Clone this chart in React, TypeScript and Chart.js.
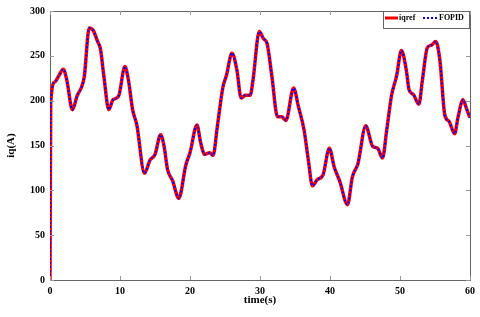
import React, { useEffect, useRef } from "react";
import { Chart, registerables } from "chart.js";

Chart.register(...registerables);

const times = [
  0, 0.1, 0.7, 1.2, 1.9, 2.4, 3.2, 3.9, 4.5, 4.9, 5.6, 6.2, 6.8, 7.2, 7.7, 8.4, 9.0, 9.8,
  10.7, 11.2, 11.8, 12.4, 13.5, 14.3, 15.0, 15.8, 16.3, 16.8, 17.5, 18.4, 19.4, 20.0,
  21.0, 21.5, 22.1, 22.8, 23.3, 23.9, 24.7, 25.2, 26.0, 26.7, 27.3, 27.9, 28.6, 29.0,
  29.9, 30.5, 31.0, 31.7, 32.5, 33.1, 33.7, 34.8, 35.5, 36.3, 36.9, 37.5, 38.2, 39.0,
  39.9, 40.6, 41.4, 42.5, 43.2, 44.0, 45.1, 46.1, 46.8, 47.5, 48.1, 48.8, 49.5, 50.2,
  50.9, 51.3, 51.9, 52.7, 53.2, 53.9, 54.5, 55.1, 55.7, 56.4, 57.0, 57.8, 58.3, 59.0,
  59.5, 60.0,
];

const iqref = [
  0, 197, 221, 227, 235, 223, 190, 206, 215, 227, 281, 278, 266, 258, 227, 190, 201, 205,
  238, 223, 190, 173, 119, 134, 140, 162, 149, 123, 111, 91, 128, 142,
  173, 154, 140, 142, 139, 171, 215, 228, 253, 234, 203, 206, 206, 223,
  277, 269, 264, 227, 182, 182, 178, 214, 193, 167, 134, 105, 112, 117,
  147, 126, 110, 84, 115, 130, 172, 149, 147, 136, 167, 206, 227, 256,
  234, 212, 207, 196, 223, 259, 262, 266, 245, 184, 177, 163, 182, 201,
  191, 181,
];

const fopid = [
  0, 197, 221, 227, 235, 223, 190, 206, 215, 227, 281, 278, 266, 258, 227, 190, 201, 205,
  238, 223, 190, 173, 119, 134, 140, 162, 149, 123, 111, 91, 128, 142,
  173, 154, 140, 142, 139, 171, 215, 228, 253, 234, 203, 206, 206, 223,
  277, 269, 264, 227, 182, 182, 178, 214, 193, 167, 134, 105, 112, 117,
  147, 126, 110, 84, 115, 130, 172, 149, 147, 136, 167, 206, 227, 256,
  234, 212, 207, 196, 223, 259, 262, 266, 245, 184, 177, 163, 182, 201,
  191, 181,
];

const xTicks = [0, 10, 20, 30, 40, 50, 60];
const yTicks = [0, 50, 100, 150, 200, 250, 300];
const seriesNames = ["iqref", "FOPID"];
const xTitle = "time(s)";
const yTitle = "iq(A)";

const FONT = "'Liberation Serif', 'Times New Roman', serif";

const framePlugin = {
  id: "frame",
  afterDraw(chart: any) {
    const { ctx, chartArea } = chart;
    const { left, right, top, bottom } = chartArea;
    const xs = chart.scales.x;
    const ys = chart.scales.y;
    ctx.save();
    // box
    ctx.strokeStyle = "#666";
    ctx.lineWidth = 1;
    ctx.beginPath();
    ctx.moveTo(left, top + 0.5);
    ctx.lineTo(right + 0.5, top + 0.5);
    ctx.lineTo(right + 0.5, bottom);
    ctx.stroke();
    // inward ticks
    ctx.strokeStyle = "#999";
    const tl = 4;
    ctx.beginPath();
    xTicks.forEach((v) => {
      const px = Math.round(xs.getPixelForValue(v)) + 0.5;
      ctx.moveTo(px, bottom);
      ctx.lineTo(px, bottom - tl);
      ctx.moveTo(px, top);
      ctx.lineTo(px, top + tl);
    });
    yTicks.forEach((v) => {
      const py = Math.round(ys.getPixelForValue(v)) + 0.5;
      ctx.moveTo(left, py);
      ctx.lineTo(left + tl, py);
      ctx.moveTo(right, py);
      ctx.lineTo(right - tl, py);
    });
    ctx.stroke();

    // legend
    const bx = 383, by = 11, bw = 86, bh = 17;
    ctx.fillStyle = "#fff";
    ctx.fillRect(bx, by, bw, bh);
    ctx.strokeStyle = "#666";
    ctx.strokeRect(bx + 0.5, by + 0.5, bw, bh);
    const ly = by + 7;
    ctx.strokeStyle = "#ff0000";
    ctx.lineWidth = 3;
    ctx.beginPath();
    ctx.moveTo(385, ly);
    ctx.lineTo(398, ly);
    ctx.stroke();
    ctx.strokeStyle = "#0000ff";
    ctx.lineWidth = 2;
    ctx.setLineDash([2, 2]);
    ctx.beginPath();
    ctx.moveTo(423, ly);
    ctx.lineTo(437, ly);
    ctx.stroke();
    ctx.setLineDash([]);
    ctx.fillStyle = "#000";
    ctx.font = `bold 8px ${FONT}`;
    ctx.textBaseline = "middle";
    ctx.textAlign = "left";
    ctx.fillText(seriesNames[0], 399, ly);
    ctx.fillText(seriesNames[1], 439, ly);
    ctx.restore();
  },
};

export default function App() {
  const ref = useRef<HTMLCanvasElement | null>(null);
  useEffect(() => {
    if (!ref.current) return;
    const chart = new Chart(ref.current, {
      type: "line",
      data: {
        datasets: [
          {
            label: seriesNames[1],
            data: times.map((t, i) => ({ x: t, y: fopid[i] })),
            borderColor: "#0000ff",
            borderWidth: 2,
            borderDash: [2, 2],
            pointRadius: 0,
            cubicInterpolationMode: "monotone",
            order: 0,
          },
          {
            label: seriesNames[0],
            data: times.map((t, i) => ({ x: t, y: iqref[i] })),
            borderColor: "#ff0000",
            borderWidth: 3.5,
            pointRadius: 0,
            cubicInterpolationMode: "monotone",
            order: 1,
          },
        ],
      },
      options: {
        animation: false,
        responsive: false,
        layout: { padding: { top: 11, right: 10, left: 0, bottom: 0 } },
        plugins: { legend: { display: false }, tooltip: { enabled: false } },
        scales: {
          x: {
            type: "linear",
            min: 0,
            max: 60,
            afterFit: (s: any) => {
              s.height = 37;
            },
            afterBuildTicks: (s: any) => {
              s.ticks = xTicks.map((v) => ({ value: v }));
            },
            grid: { display: false, drawTicks: false },
            border: { display: true, color: "#666" },
            ticks: {
              padding: 5,
              color: "#000",
              maxRotation: 0,
              font: { family: FONT, size: 10, weight: "bold" },
            },
            title: {
              display: true,
              text: xTitle,
              color: "#000",
              padding: { top: 0, bottom: 10 },
              font: { family: FONT, size: 11, weight: "bold" },
            },
          },
          y: {
            min: 0,
            max: 300,
            afterFit: (s: any) => {
              s.width = 50;
            },
            afterBuildTicks: (s: any) => {
              s.ticks = yTicks.map((v) => ({ value: v }));
            },
            grid: { display: false, drawTicks: false },
            border: { display: true, color: "#666" },
            ticks: {
              padding: 5,
              color: "#000",
              font: { family: FONT, size: 10, weight: "bold" },
            },
            title: {
              display: true,
              text: yTitle,
              color: "#000",
              padding: { top: 5, bottom: 0 },
              font: { family: FONT, size: 11, weight: "bold" },
            },
          },
        },
      },
      plugins: [framePlugin],
    } as any);
    return () => chart.destroy();
  }, []);
  return (
    <div style={{ position: "fixed", left: 0, top: 0, width: 480, height: 317, background: "#fff" }}>
      <canvas ref={ref} width={480} height={317} style={{ width: 480, height: 317 }} />
    </div>
  );
}
